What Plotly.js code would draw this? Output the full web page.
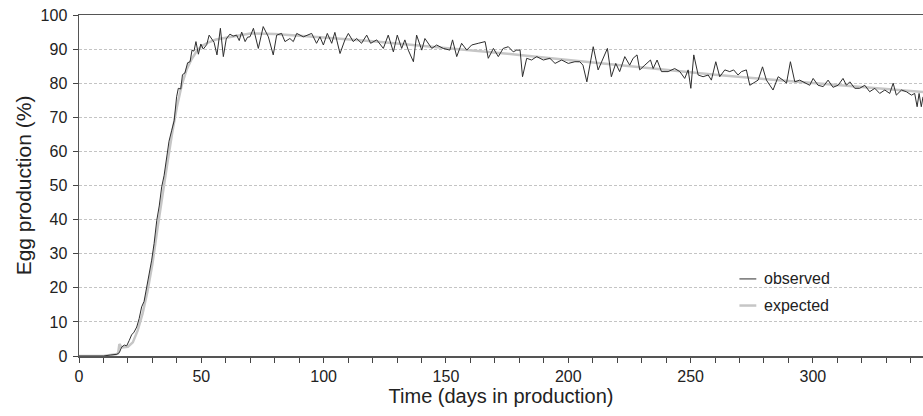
<!DOCTYPE html>
<html>
<head>
<meta charset="utf-8">
<script src="https://cdn.plot.ly/plotly-3.0.1.min.js"></script>
<style>html,body{margin:0;padding:0;background:#fff;}#chart{width:923px;height:416px;}</style>
</head>
<body>
<div id="chart"></div>
<script>
// Observed egg production (days, %)
var observedDays = [0,10,13,15.5,16.5,17.4,18.5,19.5,20.5,21.5,22.5,23.6,24.6,25.6,26.6,27.7,28.7,29.7,30.7,31.8,32.8,33.8,34.8,35.8,36.8,37.9,38.9,39.9,40.6,41.6,42.3,43.3,44.4,45.4,46.2,47,47.8,48.8,49.8,50.8,52.2,53.2,54.2,55.2,56.4,57.2,57.8,59,60.2,61.7,63,64.4,65.5,66.5,67.9,68.9,69.9,
71.3,73.3,75.3,77.4,79.4,80.8,82.8,84.2,86.2,87.6,89,91.7,95.1,97.1,98.5,99.9,101.5,103.3,104.6,106.7,108.7,110.1,112.1,113.5,115.5,117.6,119.2,121.7,124.4,126.4,128.5,130.1,131.9,133.2,134.6,136.7,138,140.1,141.4,144.2,146.2,148.9,151.6,152.7,154.4,156.4,158.5,160.5,163.2,166,167.3,169.4,171.4,173.4,175.5,177.5,178.9,180.3,181.3,183,185,187.1,189.8,192.5,194.6,197.3,200,202.7,204.7,206,207.6,210.2,212.2,214,216,217.6,219.4,221,223.1,225.1,226.5,228.1,229.2,231.3,233.6,234.7,236.3,238.1,240.8,243.5,245.6,247.6,249,250.1,251.3,253.1,255.1,257.2,258.5,260.3,261.9,264,266,267.6,269.4,270.8,272.8,274.2,276.2,277.6,279.4,281,283.7,285.8,287.8,289.2,290.8,292.6,294.6,296.7,298.7,300.1,302.1,304.2,306.2,308.2,310.3,312.3,313.7,315.1,317.1,319.1,321.2,323.2,325.3,327.3,329.4,331.4,332.8,334.1,336.2,338.2,340.3,341.6,342.6,343.4,344.3,345];
var observedValues = [0,0,0.3,0.5,1.0,2.6,3.2,3.0,4.5,6.2,7.0,8.5,11,14.4,16,20.3,23.5,28.1,33,39.8,44,49.6,53,57.4,63,66.2,69,76,78.5,78.3,82.5,83,86,86.3,89.7,89.4,92.2,88.5,91.5,90,91.3,94.1,93,92,88.3,94,96.1,87.8,93,94.4,93.8,94.1,92.5,95,92.2,93.5,93.6,
96.1,90.2,96.6,93.6,88.3,94.1,94.6,92.2,93.1,92.2,94.6,93.6,94.6,91.7,93.6,91.2,94.6,91.7,94.9,88.7,92.7,94.6,92.2,93.1,91.7,94.1,91.7,92.7,90.2,94.1,89.2,94.1,90.2,92.7,89.7,86.3,94.1,89.7,93.1,90.2,91.2,90.2,89.7,92.7,87.8,91.7,89.7,91.2,91.7,92.2,87.3,90.2,87.8,90.2,90.7,89.2,89.7,89.7,81.9,87.3,86.8,87.8,86.8,87.3,85.8,86.8,85.8,86.3,86.3,85.3,80.4,90.7,83.9,86.8,90.2,81.9,85.8,83.4,87.8,85.3,87.3,88.3,83.9,85.3,86.8,84.3,86.8,83.4,83.4,84.3,83.4,81.4,83.9,78.5,88.3,82.4,81.9,82.4,80.9,86.3,81.9,83.9,83.4,83.9,82.4,83.4,83.9,79.4,80.4,80.9,84.8,80.9,78.0,81.9,80.9,80.0,86.3,80.4,80.9,80.0,79.4,81.4,79.4,79.0,80.9,78.8,79.4,81.4,79.4,80.4,78.5,78.5,79.4,77.5,78.5,77.0,78.0,77.0,80.0,76.5,78.0,77.5,76.5,77.0,73.1,77.0,73.1,76.0];

// Expected egg production (days, %)
var expectedDays = [0,10,15,16,16.5,17.5,20,22,24,26,28,30,32,34,36,38,40,42,44,46,48,50,53,56,60,65,70,80,90,100,120,140,160,180,200,220,240,260,280,300,320,345];
var expectedValues = [0,0,0.5,0.8,3.5,2.5,2.7,4,7.5,12.5,19,27,37,47,56,65,73,79.5,84,87,89.3,90.8,92,92.8,93.3,93.9,94.6,94.4,94.0,93.4,92.3,91.0,89.7,88.3,86.8,85.3,83.9,82.5,81.2,80.0,78.8,77.4];

var seriesNames = ['observed', 'expected'];
var xTitle = 'Time (days in production)';
var yTitle = 'Egg production (%)';

var font = 'Liberation Sans, Arial, sans-serif';
var obsColor = '#2e2e2e', expColor = '#c6c6c6';

var traces = [
  {x: expectedDays, y: expectedValues, name: seriesNames[1], type: 'scatter', mode: 'lines',
   line: {color: expColor, width: 2.5}, showlegend: false},
  {x: observedDays, y: observedValues, name: seriesNames[0], type: 'scatter', mode: 'lines',
   line: {color: obsColor, width: 1}, showlegend: false}
];

// Legend drawn in paper coordinates (decoration only)
var legX0 = 0.7825, legX1 = 0.8025, legTxt = 0.809;
var legY = [0.226, 0.148];
var legColors = [obsColor, expColor], legWidths = [1, 2.5];
var shapes = [], annotations = [];
for (var i = 0; i < seriesNames.length; i++) {
  shapes.push({type: 'line', xref: 'paper', yref: 'paper', x0: legX0, x1: legX1, y0: legY[i], y1: legY[i],
               line: {color: legColors[i], width: legWidths[i]}});
  annotations.push({xref: 'paper', yref: 'paper', x: legTxt, y: legY[i], xanchor: 'left', yanchor: 'middle',
                    text: seriesNames[i], showarrow: false, font: {family: font, size: 16, color: '#222'}});
}

var layout = {
  width: 923, height: 416,
  margin: {l: 79, r: 0, t: 15, b: 60},
  paper_bgcolor: '#fff', plot_bgcolor: '#fff',
  font: {family: font, size: 16, color: '#222'},
  showlegend: false,
  shapes: shapes,
  annotations: annotations,
  xaxis: {
    range: [0, 345], dtick: 50, tick0: 0, ticks: 'outside', ticklen: 5, tickcolor: '#444', tickwidth: 1,
    minor: {dtick: 10, tick0: 0, ticks: 'outside', ticklen: 5, tickcolor: '#444', tickwidth: 1, showgrid: false},
    showline: true, linecolor: '#555', linewidth: 1.5, mirror: true,
    showgrid: false, zeroline: false, automargin: false,
    tickfont: {family: font, size: 16, color: '#222'},
    title: {text: xTitle, font: {family: font, size: 20, color: '#222'}, standoff: 4}
  },
  yaxis: {
    range: [0, 100], dtick: 10, ticks: 'outside', ticklen: 5, tickcolor: '#444', tickwidth: 1,
    showline: true, linecolor: '#555', linewidth: 1.5, automargin: false, ticklabelstandoff: 2,
    showgrid: true, gridcolor: '#c4c4c4', gridwidth: 1, griddash: '3px,2px', zeroline: false,
    tickfont: {family: font, size: 16, color: '#222'},
    title: {text: yTitle, font: {family: font, size: 21, color: '#222'}, standoff: 3}
  }
};

Plotly.newPlot('chart', traces, layout, {staticPlot: true, displayModeBar: false});
</script>
</body>
</html>
